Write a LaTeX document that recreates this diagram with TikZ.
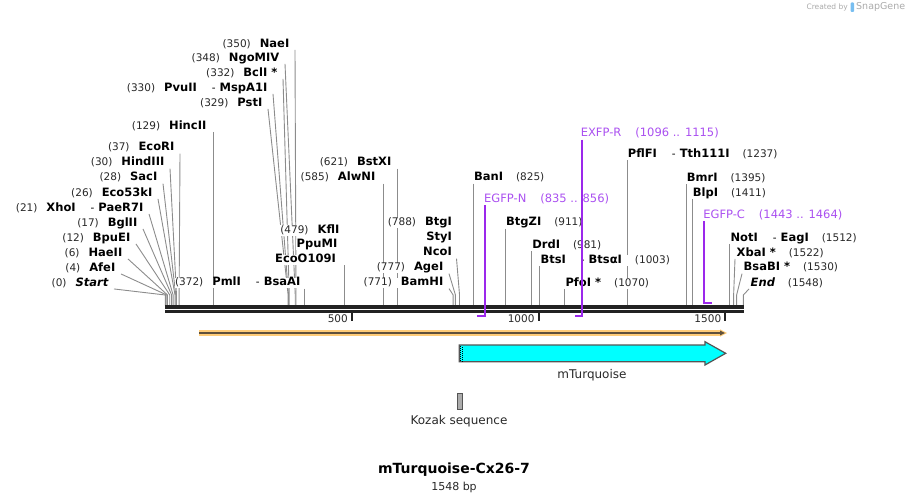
\documentclass[tikz,border=0pt]{standalone}
\usepackage{fontspec}
\setmainfont{DejaVu Sans}
\usetikzlibrary{backgrounds}

\definecolor{cutgray}{RGB}{140,140,140}
\definecolor{bbdark}{RGB}{34,34,34}
\definecolor{numdark}{RGB}{40,40,40}
\definecolor{primline}{RGB}{155,40,235}
\definecolor{primtext}{RGB}{170,80,240}
\definecolor{orfband}{RGB}{255,204,120}
\definecolor{orfdark}{RGB}{95,80,60}
\definecolor{turq}{RGB}{0,255,255}
\definecolor{edgegray}{RGB}{85,85,85}
\definecolor{wmgray}{RGB}{170,170,170}
\definecolor{wmblue}{RGB}{120,190,240}

\newcommand{\BP}[1]{165.3+0.3734*#1}
\newcommand{\ENZn}[1]{{\fontsize{10.5}{12}\selectfont\color{numdark}(#1)}}
\newcommand{\ENZb}[1]{{\fontsize{11.5}{12}\selectfont\bfseries #1}}
\newcommand{\ENZs}{\hspace{15pt}{\mdseries\fontsize{10.5}{12}\selectfont-}\hspace{4pt}}

\tikzset{
  lab/.style={inner sep=0.5pt,fill=white,text height=7.5pt,text depth=2pt,yshift=-1.5pt},
  plab/.style={inner sep=0.5pt,text=primtext,font=\fontsize{11.5}{12}\selectfont,text height=7.5pt,text depth=2pt,yshift=-1.5pt},
  cut/.style={draw=cutgray,line width=0.9pt},
  prim/.style={draw=primline,line width=2pt},
  tick/.style={draw=bbdark,line width=2pt},
  feat/.style={text=numdark,font=\fontsize{12}{14}\selectfont}
}

\newcommand{\CUTl}[5]{%
  \coordinate (s#1) at (\BP{#4},305.5);
  \coordinate (k#1) at (\BP{#4},295);
  \node[lab,anchor=east] (l#1) at (#2,#3) {\ENZn{#4}\hspace{9pt}\ENZb{#5}};
  \begin{scope}[on background layer]
    \draw[cut] ([xshift=5pt]l#1.south east) -- (k#1) -- (s#1);
  \end{scope}}
\newcommand{\CUTv}[5]{%
  \coordinate (s#1) at (\BP{#4},305.5);
  \node[lab,anchor=east] (l#1) at (#2,#3) {\ENZn{#4}\hspace{9pt}\ENZb{#5}};
  \begin{scope}[on background layer]
    \draw[cut] (s#1 |- l#1.south) -- (s#1);
  \end{scope}}
\newcommand{\CUTr}[4]{%
  \coordinate (s#1) at (\BP{#3},305.5);
  \node[lab,anchor=west] (l#1) at (\BP{#3},#2) {\ENZb{#4}\hspace{13pt}\ENZn{#3}};
  \begin{scope}[on background layer]
    \draw[cut] (s#1 |- l#1.south) -- (s#1);
  \end{scope}}
\newcommand{\CUTd}[5]{%
  \coordinate (s#1) at (\BP{#4},305.5);
  \coordinate (k#1) at (\BP{#4},295);
  \node[lab,anchor=west] (l#1) at (#2,#3) {\ENZb{#5}\hspace{13pt}\ENZn{#4}};
  \begin{scope}[on background layer]
    \draw[cut] ([xshift=-1pt]l#1.south west) -- (k#1) -- (s#1);
  \end{scope}}
\newcommand{\PRIMr}[5]{%
  \coordinate (a#1) at (\BP{#4},315.7);
  \coordinate (b#1) at (\BP{#3},315.7);
  \node[plab,anchor=west] (l#1) at (\BP{#4}-1.5,#2) {#5\hspace{14pt}(#3 .. #4)};
  \draw[prim] (a#1 |- l#1.south) -- (a#1) -- (b#1);}
\newcommand{\PRIMf}[5]{%
  \coordinate (a#1) at (\BP{#3},302.5);
  \coordinate (b#1) at (\BP{#4},302.5);
  \node[plab,anchor=west] (l#1) at (\BP{#3}-1.5,#2) {#5\hspace{14pt}(#3 .. #4)};
  \draw[prim] (a#1 |- l#1.south) -- (a#1) -- (b#1);}

\begin{document}
\begin{tikzpicture}[x=1pt,y=-1pt]
  \useasboundingbox (0,0) rectangle (909,503);

  \node[anchor=east,inner sep=0pt,text=wmgray,font=\fontsize{7.5}{8}\selectfont] (wmtext) at (848,7) {Created by};
  \fill[wmblue,rounded corners=1pt] (850.5,2.5) rectangle (854,12);
  \node[anchor=west,inner sep=0pt,text=wmgray,font=\fontsize{9.5}{10}\selectfont] (wmname) at (856,7) {SnapGene};

  \draw[draw=bbdark,line width=3.5pt] (165,307.2) -- (744,307.2);
  \draw[draw=bbdark,line width=2.7pt] (165,311.7) -- (744,311.7);
  \foreach \t in {500,1000,1500}{
    \coordinate (t\t) at (\BP{\t},313);
    \draw[tick] (t\t) -- ++(0,8);
    \node[anchor=east,inner sep=0pt,text=numdark,font=\fontsize{10.5}{12}\selectfont] (n\t) at ([xshift=-4pt,yshift=-6pt]t\t) {\t};
  }

  \CUTl{NaeI}{290}{43}{350}{NaeI}
  \CUTl{NgoMIV}{280}{57}{348}{NgoMIV}
  \CUTl{BclI}{278}{72}{332}{BclI *}
  \CUTl{PvuII}{268}{87}{330}{PvuII\ENZs MspA1I}
  \CUTl{PstI}{263}{102}{329}{PstI}
  \CUTv{HincII}{207}{125}{129}{HincII}
  \CUTl{EcoRI}{175}{146.7}{37}{EcoRI}
  \CUTl{HindIII}{165}{161.7}{30}{HindIII}
  \CUTl{SacI}{158}{176.7}{28}{SacI}
  \CUTl{Eco53kI}{153}{192}{26}{Eco53kI}
  \CUTl{XhoI}{144}{207}{21}{XhoI\ENZs PaeR7I}
  \CUTl{BglII}{138}{222}{17}{BglII}
  \CUTl{BpuEI}{131}{237}{12}{BpuEI}
  \CUTl{HaeII}{123}{252}{6}{HaeII}
  \CUTl{AfeI}{116}{267}{4}{AfeI}
  \CUTl{Start}{109}{282}{0}{\itshape Start}
  \CUTv{PmlI}{301}{281.7}{372}{PmlI\ENZs BsaAI}
  \CUTv{BstXI}{392}{161.7}{621}{BstXI}
  \CUTv{AlwNI}{376}{176.7}{585}{AlwNI}

  \coordinate (sKflI) at (\BP{479},305.5);
  \node[lab,anchor=east] (lKflI) at (340,229) {\ENZn{479}\hspace{9pt}\ENZb{KflI}};
  \node[lab,anchor=east] (lPpuMI) at (338,243.3) {\ENZb{PpuMI}};
  \node[lab,anchor=east] (lEcoO109I) at (336.5,258.3) {\ENZb{EcoO109I}};
  \begin{scope}[on background layer]
    \draw[cut] (sKflI |- lEcoO109I.south) -- (sKflI);
  \end{scope}

  \coordinate (sBtgI) at (\BP{788},305.5);
  \coordinate (kBtgI) at (\BP{788},295);
  \node[lab,anchor=east] (lBtgI) at (452.5,221.7) {\ENZn{788}\hspace{9pt}\ENZb{BtgI}};
  \node[lab,anchor=east] (lStyI) at (452.5,236.7) {\ENZb{StyI}};
  \node[lab,anchor=east] (lNcoI) at (452.5,251.7) {\ENZb{NcoI}};
  \begin{scope}[on background layer]
    \draw[cut] ([xshift=4pt]lNcoI.south east) -- (kBtgI) -- (sBtgI);
  \end{scope}
  \CUTl{AgeI}{444}{266.7}{777}{AgeI}
  \CUTl{BamHI}{444}{281.7}{771}{BamHI}

  \CUTr{BanI}{176.7}{825}{BanI}
  \CUTr{BtgZI}{221.7}{911}{BtgZI}
  \CUTr{DrdI}{244.3}{981}{DrdI}
  \CUTr{BtsI}{259}{1003}{BtsI\ENZs BtsαI}
  \CUTr{PfoI}{282}{1070}{PfoI *}
  \CUTr{PflFI}{153.3}{1237}{PflFI\ENZs Tth111I}
  \CUTr{BmrI}{177.3}{1395}{BmrI}
  \CUTr{BlpI}{192}{1411}{BlpI}
  \CUTr{NotI}{237}{1512}{NotI\ENZs EagI}
  \CUTd{XbaI}{736}{252}{1522}{XbaI *}
  \CUTd{BsaBI}{743}{266.7}{1530}{BsaBI *}
  \CUTd{End}{750}{282}{1548}{\itshape End}

  \PRIMr{EGFPN}{198.3}{835}{856}{EGFP-N}
  \PRIMr{EXFPR}{132.7}{1096}{1115}{EXFP-R}
  \PRIMf{EGFPC}{214}{1443}{1464}{EGFP-C}

  \draw[draw=orfband,line width=5.5pt] (199,333) -- (721,333);
  \fill[orfband] (720,329.3) -- (727,333) -- (720,336.7) -- cycle;
  \draw[draw=orfdark,line width=1.8pt] (199,333) -- (721,333);
  \fill[orfdark] (720,330.6) -- (725,333) -- (720,335.4) -- cycle;

  \draw[fill=turq,draw=edgegray,line width=1.2pt] (459.3,345) -- (705,345) -- (705,341.7)
    -- (725.7,353.3) -- (705,365) -- (705,361.7) -- (459.3,361.7) -- cycle;
  \foreach \y in {345.5,347.5,...,360.5}{
    \fill[black] (460,\y) rectangle ++(1,1);
    \fill[black] (462,\y+1) rectangle ++(1,1);
  }
  \node[feat] (lmTurq) at (592,375) {mTurquoise};

  \draw[fill=gray!65,draw=edgegray,line width=0.8pt] (457.8,393) rectangle (462,409.5);
  \node[feat] (lKozak) at (459,421) {Kozak sequence};

  \node[font=\fontsize{14}{16}\selectfont\bfseries,text=black] (title) at (454,470) {mTurquoise-Cx26-7};
  \node[text=numdark,font=\fontsize{11}{13}\selectfont] (len) at (454,487) {1548 bp};
\end{tikzpicture}
\end{document}
